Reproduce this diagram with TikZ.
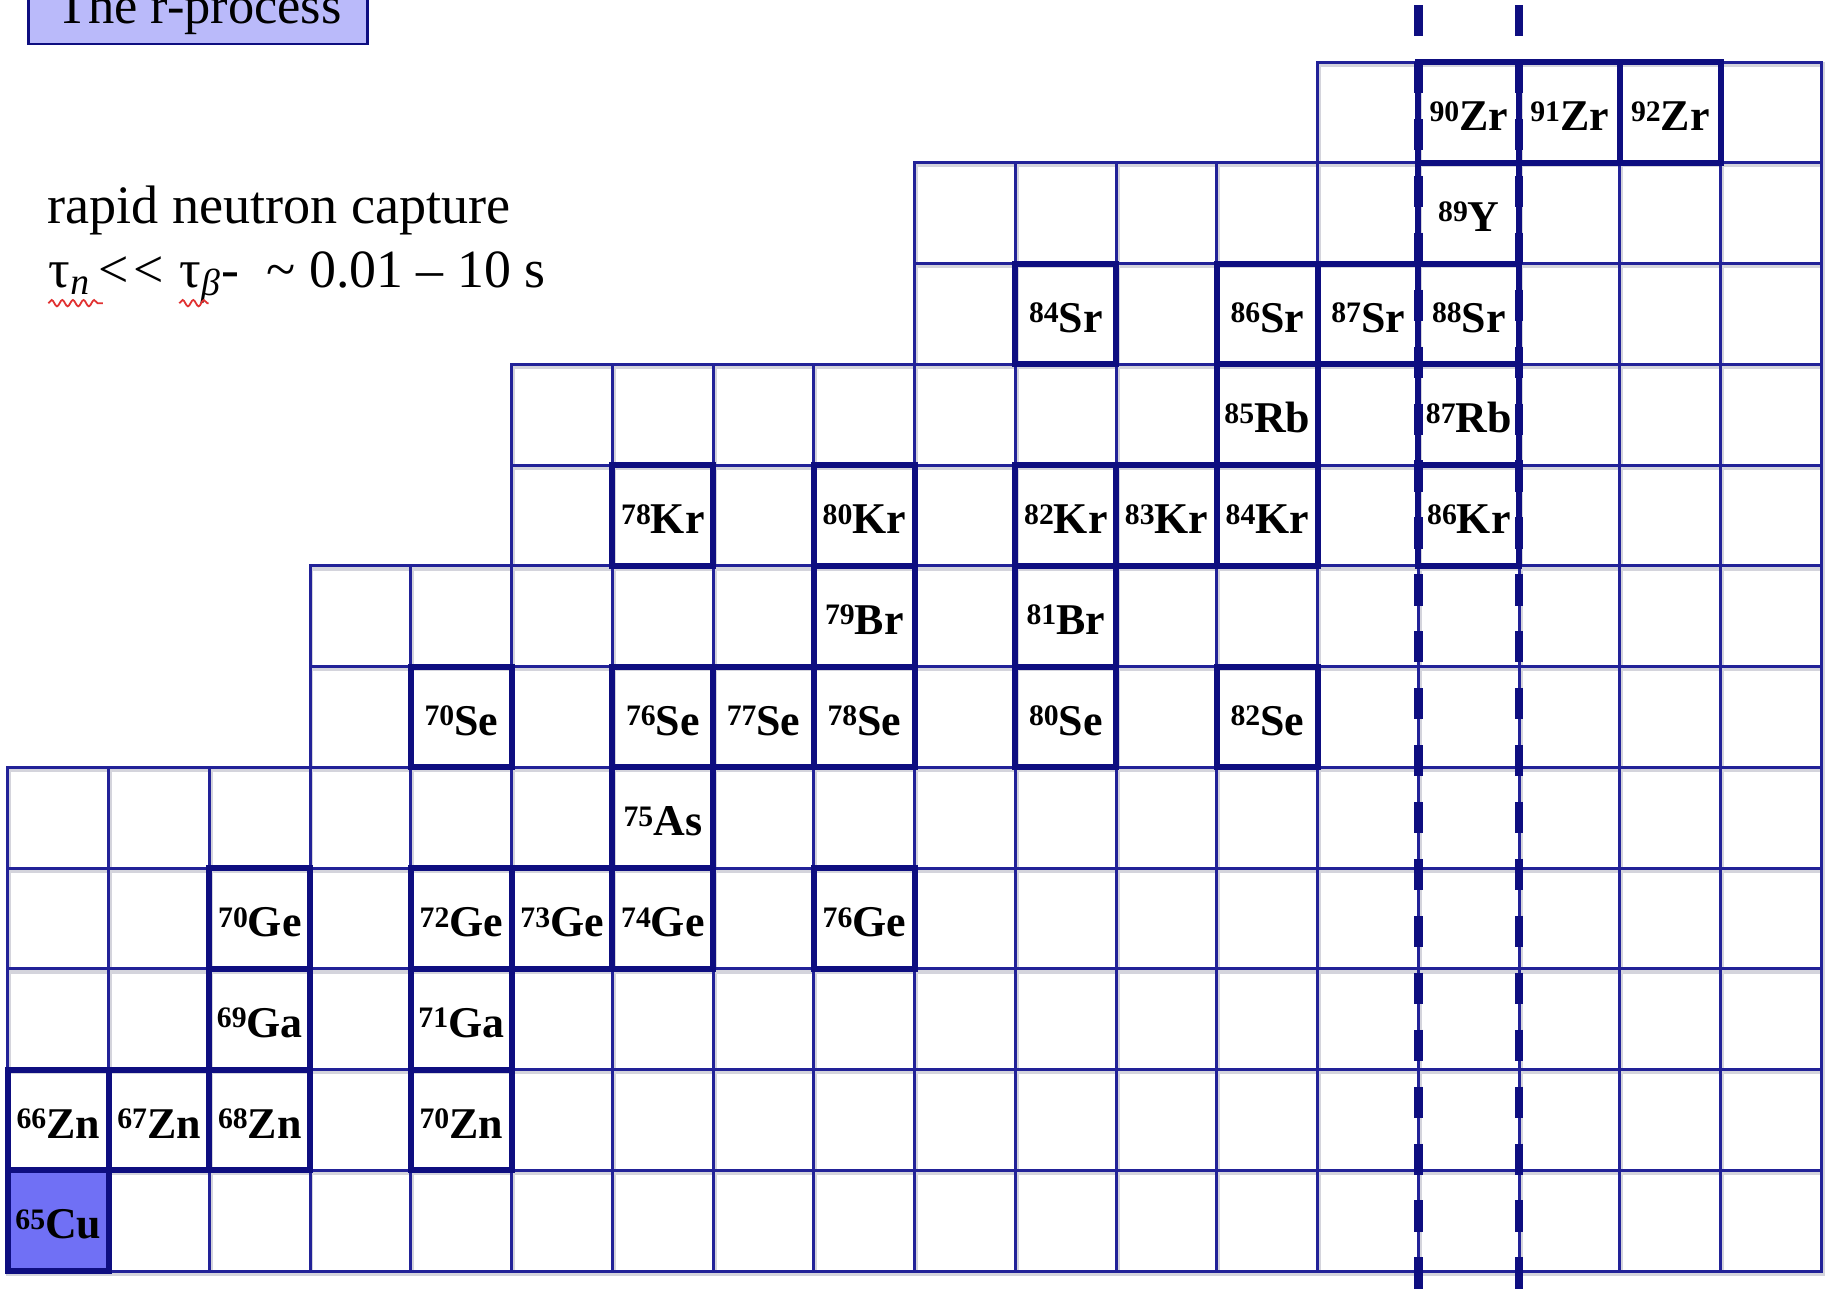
\documentclass[tikz,border=0pt]{standalone}
\usepackage{fontspec}
\setmainfont{Liberation Serif}
\usetikzlibrary{decorations.pathmorphing}
\definecolor{gridthin}{RGB}{34,34,152}
\definecolor{gridthick}{RGB}{14,14,128}
\definecolor{cufill}{RGB}{112,112,245}
\definecolor{titlefill}{RGB}{186,186,250}
\definecolor{shadowgray}{RGB}{212,212,220}
\definecolor{squigred}{RGB}{225,50,50}
\newcommand\isolabel[2]{\raisebox{2.7pt}{\fontsize{8.4}{9}\selectfont #1}#2}
\begin{document}
\begin{tikzpicture}[x=1cm,y=1cm,
  thincell/.style={draw=gridthin, line width=0.85pt},
  shadowcell/.style={draw=shadowgray, line width=1.4pt},
  isocell/.style={draw=gridthick, line width=1.7pt, rectangle, minimum width=1cm, minimum height=1cm, inner sep=0pt,
    text height=0.36cm, text depth=0pt,
    font=\fontsize{12.4}{14}\selectfont\bfseries, text=black},
  neutronline/.style={draw=gridthick, line width=2.3pt, dash pattern=on 0.31cm off 0.255cm},
  squiggle/.style={draw=squigred, line width=0.5pt, decorate, decoration={snake, segment length=3pt, amplitude=0.9pt}},
  titlebox/.style={draw=gridthick, line width=0.7pt, fill=titlefill},
  bigtext/.style={anchor=base west, inner sep=0pt, text=black}]
\clip (0,0) rectangle (18.114,12.834);
\fill[white] (0,0) rectangle (18.114,12.834);

% title
\draw[titlebox] (0.285,12.397) rectangle (3.646,13.3);
\node[bigtext, font=\fontsize{14.8}{17}\selectfont] (title) at (0.55,12.605) {The r-process};

% description
\node[bigtext, font=\fontsize{15.3}{18}\selectfont] (line1) at (0.462,10.62) {rapid neutron capture};
\node[bigtext, font=\fontsize{15.2}{18}\selectfont] (line2) at (0.476,9.985)
  {τ\textsubscript{\itshape n}\kern0.15em<\kern0.08em<\kern0.04em\ τ\textsubscript{\itshape β}-\ \ \textasciitilde\ 0.01 – 10 s};
\draw[squiggle] (0.48,9.825) -- (1.02,9.825);
\draw[squiggle] (1.78,9.825) -- (2.07,9.825);

\begin{scope}[shift={(0.079,0.218)}]
  % shadow of the grid
  \begin{scope}[shift={(0.008,-0.022)}]
    \foreach \r/\s in {0/0,1/0,2/0,3/0,4/0,5/3,6/3,7/5,8/5,9/9,10/9,11/13}{
      \foreach \c in {\s,...,17}{
        \draw[shadowcell] (\c,\r) rectangle ++(1,1);
      }
    }
  \end{scope}
  % thin grid
  \foreach \r/\s in {0/0,1/0,2/0,3/0,4/0,5/3,6/3,7/5,8/5,9/9,10/9,11/13}{
    \foreach \c in {\s,...,17}{
      \draw[thincell] (\c,\r) rectangle ++(1,1);
    }
  }
  % stable isotopes
  \node[isocell, fill=cufill] (iso65Cu) at (0.5,0.5) {\isolabel{65}{Cu}};
  \foreach \c/\r/\a/\e in {
    0/1/66/Zn, 1/1/67/Zn, 2/1/68/Zn, 4/1/70/Zn,
    2/2/69/Ga, 4/2/71/Ga,
    2/3/70/Ge, 4/3/72/Ge, 5/3/73/Ge, 6/3/74/Ge, 8/3/76/Ge,
    6/4/75/As,
    4/5/70/Se, 6/5/76/Se, 7/5/77/Se, 8/5/78/Se, 10/5/80/Se, 12/5/82/Se,
    8/6/79/Br, 10/6/81/Br,
    6/7/78/Kr, 8/7/80/Kr, 10/7/82/Kr, 11/7/83/Kr, 12/7/84/Kr, 14/7/86/Kr,
    12/8/85/Rb, 14/8/87/Rb,
    10/9/84/Sr, 12/9/86/Sr, 13/9/87/Sr, 14/9/88/Sr,
    14/10/89/Y,
    14/11/90/Zr, 15/11/91/Zr, 16/11/92/Zr}{
    \node[isocell] (iso\a\e) at (\c+0.5,\r+0.5) {\isolabel{\a}{\e}};
  }
  % magic neutron number lines
  \coordinate (nlAtop) at (14,12.566);
  \coordinate (nlAbot) at (14,-0.4);
  \coordinate (nlBtop) at (15,12.566);
  \coordinate (nlBbot) at (15,-0.4);
  \draw[neutronline] (nlAtop) -- (nlAbot);
  \draw[neutronline] (nlBtop) -- (nlBbot);
\end{scope}
\end{tikzpicture}
\end{document}
